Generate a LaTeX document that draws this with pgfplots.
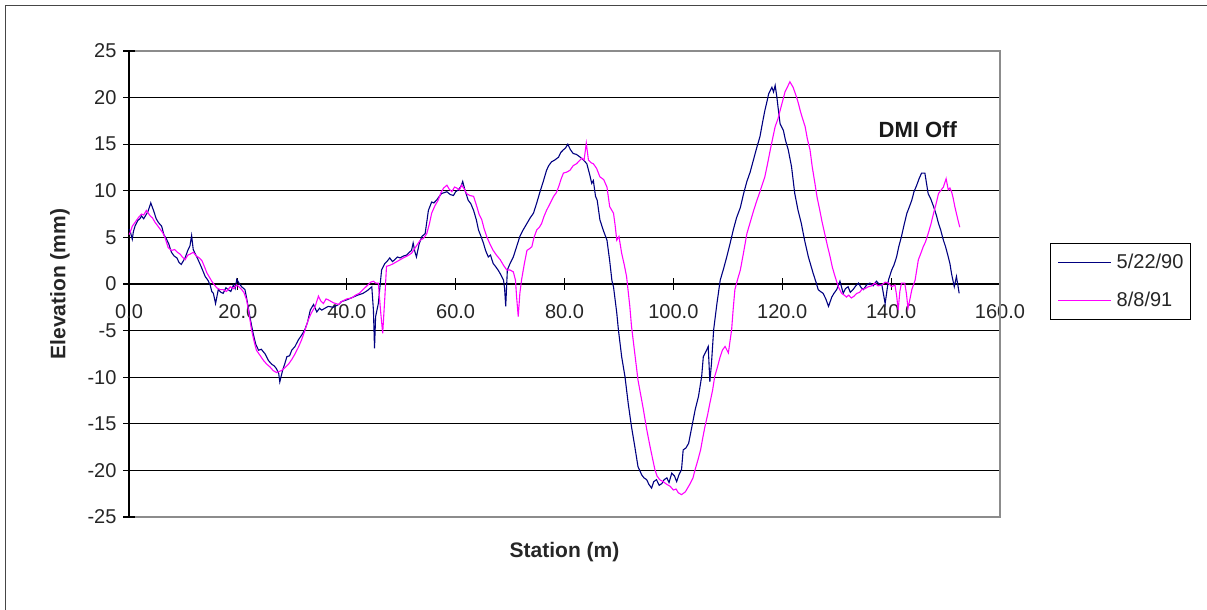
\documentclass[border=0pt]{standalone}
\usepackage{pgfplots}
\pgfplotsset{compat=1.18}
\usepackage{fontspec}
\setmainfont{Liberation Sans}
\setsansfont{Liberation Sans}
\definecolor{navyline}{RGB}{0,0,128}
\definecolor{magline}{RGB}{255,0,255}
\definecolor{framegray}{RGB}{70,70,70}
\definecolor{bordergray}{RGB}{140,140,140}
\begin{document}
\begin{tikzpicture}
\useasboundingbox (0pt,0pt) rectangle (1207pt,610pt);
\draw[framegray,line width=1.6pt] (5.5pt,0pt) -- (5.5pt,604.5pt) -- (1207pt,604.5pt);
\begin{axis}[
  at={(129pt,93pt)}, anchor=south west,
  scale only axis, width=871pt, height=466pt,
  xmin=0, xmax=160, ymin=-25, ymax=25,
  axis x line=middle, axis y line=left,
  axis line style={-, black, line width=1.1pt},
  x axis line style={-}, y axis line style={-},
  xtick={0,20,...,160}, ytick={-25,-20,...,25},
  major tick length=12pt, xtick align=center, ytick align=center,
  tick style={black, line width=1.1pt},
  hide obscured x ticks=false, hide obscured y ticks=false,
  ymajorgrids, grid style={black, line width=1.1pt},
  /pgf/number format/assume math mode=true,
  tick label style={font=\fontsize{20}{24}\selectfont, text=black!85},
  xticklabel style={/pgf/number format/.cd, fixed, fixed zerofill, precision=1, /tikz/.cd, yshift=-11pt},
  yticklabel style={xshift=-3pt},
  every axis x label/.style={at={(axis description cs:0.5,-0.075)}, anchor=center},
  every axis y label/.style={at={(axis description cs:-0.0792,0.5)}, rotate=90, anchor=center},
  xlabel={Station (m)}, ylabel={Elevation (mm)},
  label style={font=\bfseries\fontsize{21}{24}\selectfont, text=black!85},
  clip=false,
  legend style={at={(1.0574,0.588)}, anchor=north west, draw=black, line width=1.2pt,
    inner xsep=7pt, inner ysep=10pt, row sep=20pt, column sep=5pt,
    font=\fontsize{20}{24}\selectfont, text=black!85,
    nodes={inner sep=0pt, text height=14.5pt, text depth=3.5pt}},
  legend cell align=left,
  legend image code/.code={\draw[#1] (0pt,0pt) -- (53pt,0pt);},
]
\addplot[navyline, line width=1.1pt] coordinates {
(0.0,5.9) (0.2,5.7) (0.6,4.8) (0.8,5.6) (1.1,6.2) (1.6,6.8) (2.0,7.0) (2.3,7.3) (2.7,7.0) (3.1,7.4) (3.5,7.8) (4.0,8.7) (4.5,7.9) (5.0,7.0) (5.4,6.6) (6.0,6.2) (6.4,5.3) (6.9,4.8) (7.3,4.3) (7.8,3.4) (8.3,3.0) (8.8,2.8) (9.2,2.3) (9.6,2.1) (10.0,2.5) (10.3,2.8) (10.8,3.6) (11.2,4.1) (11.5,5.2) (11.8,3.7) (12.2,3.2) (12.7,2.6) (13.3,1.8) (14.0,0.8) (14.5,0.4) (14.9,-0.1) (15.2,-0.8) (15.5,-1.0) (15.9,-2.1) (16.2,-1.2) (16.4,-0.6) (16.9,-0.9) (17.3,-1.0) (17.8,-0.4) (18.2,-0.6) (18.7,-0.8) (19.2,-0.1) (19.5,-0.5) (19.8,0.5) (20.2,0.1) (20.7,-0.3) (21.3,-0.6) (21.7,-1.8) (22.2,-3.5) (22.8,-5.3) (23.3,-6.5) (23.8,-7.1) (24.3,-7.0) (25.0,-7.5) (25.6,-8.2) (26.2,-8.6) (26.7,-8.8) (27.1,-9.1) (27.5,-9.6) (27.7,-10.5) (28.2,-9.3) (28.6,-8.6) (29.0,-7.8) (29.5,-7.7) (29.9,-7.1) (30.5,-6.7) (31.1,-6.0) (31.7,-5.5) (32.3,-4.9) (32.8,-4.1) (33.3,-2.8) (33.9,-2.2) (34.5,-3.0) (35.0,-2.6) (35.4,-2.8) (36.0,-2.6) (36.6,-2.4) (37.5,-2.5) (38.5,-2.2) (39.0,-1.9) (40.0,-1.7) (41.2,-1.4) (42.0,-1.2) (43.0,-1.0) (43.8,-0.7) (44.6,-0.3) (44.9,-2.8) (45.1,-6.9) (45.3,-3.5) (45.8,-2.1) (46.4,1.5) (47.0,2.2) (47.5,2.5) (47.9,2.8) (48.4,2.4) (48.8,2.6) (49.3,2.9) (49.8,2.8) (50.4,3.0) (51.0,3.1) (51.5,3.4) (51.9,3.6) (52.2,4.4) (52.5,3.5) (52.8,2.9) (53.3,4.3) (53.8,5.1) (54.4,5.4) (55.0,7.9) (55.6,8.8) (56.0,8.7) (56.5,9.0) (57.0,9.4) (57.4,9.7) (57.9,9.8) (58.4,9.9) (59.0,9.6) (59.6,9.5) (60.0,9.9) (60.5,10.1) (61.0,10.5) (61.3,11.0) (61.7,10.1) (62.3,9.0) (62.8,8.6) (63.3,7.9) (63.8,6.9) (64.2,5.8) (64.6,5.2) (65.1,4.4) (65.5,3.6) (66.0,2.9) (66.4,3.1) (66.9,2.2) (67.3,1.9) (67.8,1.5) (68.3,1.0) (68.8,0.4) (69.0,-0.5) (69.2,-2.4) (69.5,1.5) (70.0,2.2) (70.6,2.9) (71.2,4.0) (71.8,5.1) (72.4,5.8) (73.1,6.5) (73.7,7.1) (74.3,7.6) (74.9,8.7) (75.5,9.9) (76.1,11.0) (76.7,12.2) (77.1,12.7) (77.6,13.1) (78.2,13.3) (78.9,13.6) (79.3,14.1) (79.8,14.4) (80.2,14.6) (80.6,15.0) (81.1,14.4) (81.6,14.0) (82.2,13.9) (82.9,13.6) (83.5,13.3) (84.1,12.9) (84.6,11.8) (85.0,10.8) (85.3,11.1) (85.7,9.4) (86.0,9.0) (86.5,6.9) (87.1,5.8) (87.8,4.7) (88.3,2.5) (88.7,0.4) (89.0,-0.3) (89.6,-3.1) (89.9,-4.9) (90.5,-7.8) (91.1,-9.9) (91.7,-12.8) (92.3,-15.3) (92.9,-17.4) (93.5,-19.6) (94.2,-20.5) (94.6,-20.8) (95.1,-21.0) (95.5,-21.5) (96.0,-21.9) (96.4,-21.2) (96.9,-21.0) (97.4,-21.6) (97.9,-21.4) (98.3,-21.0) (98.8,-20.8) (99.2,-21.3) (99.7,-20.3) (100.2,-20.6) (100.6,-21.2) (101.0,-20.5) (101.5,-19.9) (101.8,-17.8) (102.3,-17.6) (102.8,-17.1) (103.4,-15.3) (104.0,-13.5) (104.6,-12.1) (105.2,-9.9) (105.5,-7.8) (106.1,-7.1) (106.4,-6.7) (106.7,-10.5) (107.0,-8.5) (107.4,-4.9) (108.0,-2.1) (108.6,0.4) (109.2,1.6) (109.8,2.9) (110.4,4.3) (111.0,5.8) (111.6,7.1) (112.3,8.2) (112.9,9.7) (113.5,11.0) (114.1,12.0) (114.7,13.3) (115.3,14.6) (115.9,15.8) (116.4,17.4) (116.8,18.6) (117.2,19.6) (117.5,20.4) (118.1,21.1) (118.4,20.6) (118.7,21.3) (119.0,20.1) (119.3,18.6) (119.6,17.2) (120.2,16.5) (120.6,15.4) (121.1,14.4) (121.7,12.6) (122.3,9.7) (122.9,7.9) (123.5,6.5) (124.1,4.7) (124.8,2.9) (125.2,2.1) (125.7,1.1) (126.2,0.2) (126.6,-0.6) (127.0,-0.8) (127.5,-1.0) (128.0,-1.6) (128.5,-2.4) (129.1,-1.4) (129.5,-1.0) (130.0,-0.6) (130.6,0.3) (131.2,-1.0) (131.6,-0.5) (132.1,-0.3) (132.5,-0.9) (133.0,-0.6) (133.5,-0.2) (134.0,0.1) (134.5,-0.4) (134.9,-0.6) (135.5,-0.1) (136.1,0.1) (136.7,-0.2) (137.3,0.3) (137.8,0.0) (138.3,-0.1) (138.9,-2.1) (139.5,0.4) (140.1,1.5) (140.5,2.0) (141.0,2.9) (141.4,4.0) (141.9,5.1) (142.4,6.4) (142.9,7.6) (143.3,8.2) (143.8,9.0) (144.2,9.9) (144.7,10.6) (145.2,11.4) (145.6,11.9) (146.2,11.9) (146.5,10.8) (146.8,9.7) (147.3,9.1) (147.8,8.3) (148.3,7.4) (148.7,6.5) (149.1,5.8) (149.6,4.7) (150.0,4.0) (150.5,2.9) (150.8,2.2) (151.1,1.1) (151.6,-0.3) (152.0,0.8) (152.5,-1.0)
};
\addlegendentry{5/22/90}
\addplot[magline, line width=1.1pt] coordinates {
(0.0,5.3) (0.2,5.5) (0.6,6.2) (1.1,6.6) (1.7,7.1) (2.3,7.5) (2.7,7.4) (3.2,7.9) (3.9,7.3) (4.3,7.1) (4.8,6.6) (5.2,6.3) (5.7,5.9) (6.2,5.5) (6.6,5.0) (7.2,3.9) (7.8,3.6) (8.4,3.7) (8.9,3.4) (9.4,3.2) (9.8,2.9) (10.3,2.6) (10.8,3.1) (11.2,3.2) (11.8,3.4) (12.4,3.0) (12.9,2.8) (13.4,2.5) (13.9,1.8) (14.3,1.2) (14.8,0.7) (15.2,0.3) (15.7,-0.1) (16.1,-0.4) (16.7,-0.6) (17.3,-0.6) (17.9,-0.8) (18.6,-0.3) (19.2,-0.5) (19.8,-0.1) (20.2,-0.3) (20.7,-0.6) (21.1,-0.9) (21.6,-1.7) (22.0,-3.0) (22.5,-4.9) (23.0,-6.2) (23.4,-7.1) (24.0,-7.6) (24.7,-8.2) (25.3,-8.6) (25.9,-8.9) (26.5,-9.3) (27.1,-9.5) (27.5,-9.4) (28.0,-9.3) (28.6,-9.0) (29.3,-8.6) (29.9,-8.1) (30.5,-7.5) (31.1,-6.8) (31.7,-6.0) (32.3,-5.0) (32.9,-3.9) (33.5,-3.1) (34.2,-2.4) (34.8,-1.3) (35.2,-1.8) (35.7,-2.1) (36.2,-1.6) (36.6,-1.7) (37.5,-2.0) (38.5,-2.2) (39.0,-1.9) (40.0,-1.6) (40.9,-1.5) (41.6,-1.2) (42.3,-1.0) (43.0,-0.6) (43.7,-0.2) (44.4,0.2) (44.9,0.3) (45.3,0.1) (45.8,0.1) (46.2,-2.8) (46.6,-5.3) (47.0,-1.4) (47.3,1.9) (47.9,2.0) (48.6,2.2) (49.5,2.5) (50.4,2.8) (51.1,3.0) (51.9,3.3) (52.7,4.0) (53.5,4.7) (54.1,4.9) (54.7,5.4) (55.2,6.5) (55.6,7.6) (56.2,8.4) (56.8,9.0) (57.3,9.8) (57.8,10.3) (58.4,10.6) (58.8,10.2) (59.3,9.9) (59.8,10.4) (60.2,10.3) (60.7,10.1) (61.1,10.6) (61.6,10.2) (62.0,9.7) (62.6,9.5) (63.3,9.4) (63.9,8.3) (64.3,7.5) (64.8,6.9) (65.2,6.0) (65.7,5.1) (66.3,4.3) (66.9,3.6) (67.5,3.1) (68.2,2.6) (68.8,2.0) (69.4,1.5) (70.0,1.5) (70.6,1.3) (71.0,0.4) (71.2,-1.4) (71.5,-3.5) (71.8,-1.0) (72.1,0.4) (72.6,2.1) (73.1,3.6) (73.6,3.8) (74.0,4.0) (74.4,5.0) (74.9,5.8) (75.4,6.1) (75.8,6.5) (76.2,7.2) (76.7,7.9) (77.4,8.7) (78.0,9.4) (78.5,9.8) (78.9,10.4) (79.4,11.3) (79.8,11.9) (80.4,12.0) (81.0,12.2) (81.6,12.7) (82.2,12.9) (82.7,13.2) (83.2,13.5) (83.6,13.3) (84.0,15.1) (84.4,13.3) (84.9,13.0) (85.3,12.9) (85.9,12.4) (86.5,11.5) (87.2,11.2) (87.8,10.4) (88.3,8.3) (89.0,7.6) (89.3,6.3) (89.6,4.7) (90.0,5.1) (90.5,3.3) (91.0,2.0) (91.4,0.8) (92.0,-2.4) (92.3,-4.5) (92.9,-7.4) (93.5,-10.3) (94.0,-11.9) (94.5,-13.5) (95.1,-15.6) (95.7,-17.4) (96.2,-18.8) (96.6,-19.9) (97.0,-20.6) (97.5,-21.0) (98.1,-21.2) (98.8,-21.5) (99.4,-21.7) (100.0,-22.1) (100.5,-22.0) (100.9,-22.4) (101.5,-22.6) (102.2,-22.3) (102.6,-21.9) (103.1,-21.4) (103.6,-20.8) (104.0,-19.9) (104.5,-18.9) (105.0,-17.8) (105.4,-16.5) (105.8,-15.3) (106.3,-14.0) (106.7,-12.8) (107.2,-11.4) (107.6,-9.9) (108.1,-8.9) (108.6,-7.8) (109.0,-7.1) (109.5,-6.7) (110.1,-7.4) (110.7,-4.9) (111.0,-2.6) (111.3,-0.6) (111.8,0.5) (112.3,1.5) (112.9,3.4) (113.5,5.4) (114.1,6.6) (114.7,7.8) (115.3,8.9) (115.9,9.9) (116.4,10.8) (116.8,11.5) (117.3,12.9) (117.8,14.4) (118.3,15.8) (118.7,16.9) (119.2,17.7) (119.6,18.6) (120.1,19.7) (120.5,20.6) (121.0,21.2) (121.4,21.7) (122.0,21.1) (122.6,20.1) (123.0,19.3) (123.3,18.6) (123.7,17.8) (124.2,16.9) (124.6,15.6) (125.1,14.4) (125.5,12.6) (126.0,10.8) (126.4,9.3) (126.9,7.9) (127.3,6.7) (127.8,5.4) (128.3,4.1) (128.8,2.9) (129.2,1.8) (129.7,0.8) (130.3,-0.3) (130.9,-1.0) (131.4,-1.2) (131.8,-1.4) (132.2,-1.2) (132.7,-1.5) (133.2,-1.3) (133.7,-1.0) (134.2,-0.9) (134.6,-0.6) (135.2,-0.5) (135.8,-0.3) (136.4,-0.2) (137.0,0.1) (137.6,-0.2) (138.3,-0.1) (138.9,0.2) (139.5,0.1) (140.1,-0.3) (140.7,-0.1) (141.0,-1.2) (141.3,-2.8) (141.6,-0.8) (141.9,0.1) (142.5,0.1) (142.8,-1.0) (143.1,-2.6) (143.5,-1.5) (143.8,-0.6) (144.4,0.4) (145.0,2.6) (145.4,3.2) (145.9,4.0) (146.3,4.5) (146.8,5.4) (147.3,6.4) (147.8,7.6) (148.3,8.7) (148.7,9.7) (149.2,10.1) (149.6,10.4) (150.1,11.3) (150.5,10.1) (150.8,10.3) (151.1,9.9) (151.4,9.2) (151.7,8.3) (152.1,7.3) (152.6,6.1)
};
\addlegendentry{8/8/91}
\draw[bordergray, line width=1.1pt] ([xshift=6pt]rel axis cs:0,1) -- (rel axis cs:1,1) -- (rel axis cs:1,0) -- ([xshift=6pt]rel axis cs:0,0);
\node[font=\bfseries\fontsize{22}{24}\selectfont, text=black!90] at (axis cs:144.9,16.6) {DMI Off};
\end{axis}
\end{tikzpicture}
\end{document}
